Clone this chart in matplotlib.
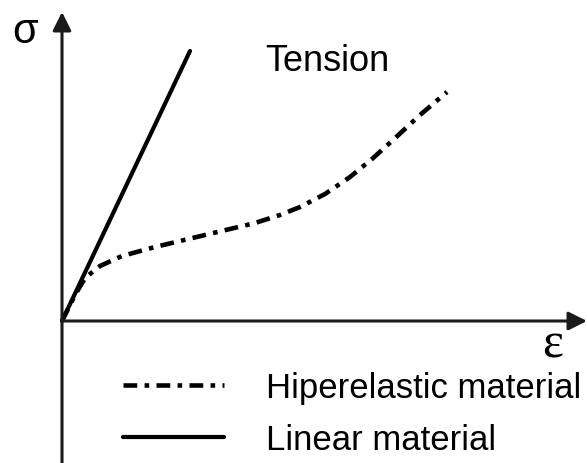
import matplotlib
matplotlib.use("Agg")
import matplotlib.pyplot as plt

# Data (arbitrary strain / stress units)
linear_strain = [0.0, 1.28]
linear_stress = [0.0, 2.70]

hyper_strain = [0.0, 0.13, 0.23, 0.38, 0.60, 0.93, 1.43, 1.93, 2.18, 2.38, 2.63,
                2.88, 3.10, 3.31, 3.58, 3.85]
hyper_stress = [0.0, 0.26, 0.43, 0.55, 0.65, 0.74, 0.86, 0.98, 1.06, 1.14, 1.27,
                1.44, 1.62, 1.81, 2.06, 2.29]

labels = ["Hiperelastic material", "Linear material"]

W, H = 587, 464
fig = plt.figure(figsize=(W / 100, H / 100), dpi=100)
ax = fig.add_axes([0, 0, 1, 1])
ax.set_xlim(-0.62, 5.25)
ax.set_ylim(-1.42, 3.22)
ax.axis("off")

sans = ["Liberation Sans", "DejaVu Sans"]

# axes arrows
ax.annotate("", xy=(0, 3.09), xytext=(0, -1.45),
            arrowprops=dict(arrowstyle="-|>", lw=2.2, color="#1a1a1a",
                            mutation_scale=28, shrinkA=0, shrinkB=0))
ax.annotate("", xy=(5.25, 0), xytext=(0, 0),
            arrowprops=dict(arrowstyle="-|>", lw=2.2, color="#1a1a1a",
                            mutation_scale=28, shrinkA=0, shrinkB=0))

h_hyper, = ax.plot(hyper_strain, hyper_stress, color="black", lw=3.3,
                   linestyle=(0, (3, 1.6, 1, 1.6)), solid_capstyle="butt",
                   dash_capstyle="butt", solid_joinstyle="round")
h_lin, = ax.plot(linear_strain, linear_stress, color="black", lw=3.0,
                 solid_capstyle="round")

ax.text(-0.37, 2.90, "σ", fontsize=30, family=sans, ha="center", va="center")
ax.text(4.91, -0.23, "ε", fontsize=36, family=["Liberation Serif", "DejaVu Serif"],
        ha="center", va="center")
ax.text(2.03, 2.60, "Tension", fontsize=26, family=sans, ha="left", va="center")

leg = ax.legend([h_hyper, h_lin], labels, loc="upper left",
                bbox_to_anchor=(123 / W, 1 - 372 / H), frameon=False,
                prop=dict(family=sans, size=25), handlelength=2.9,
                handletextpad=1.22, labelspacing=0.54, borderpad=0,
                borderaxespad=0)

fig.savefig("out.png", dpi=100)
